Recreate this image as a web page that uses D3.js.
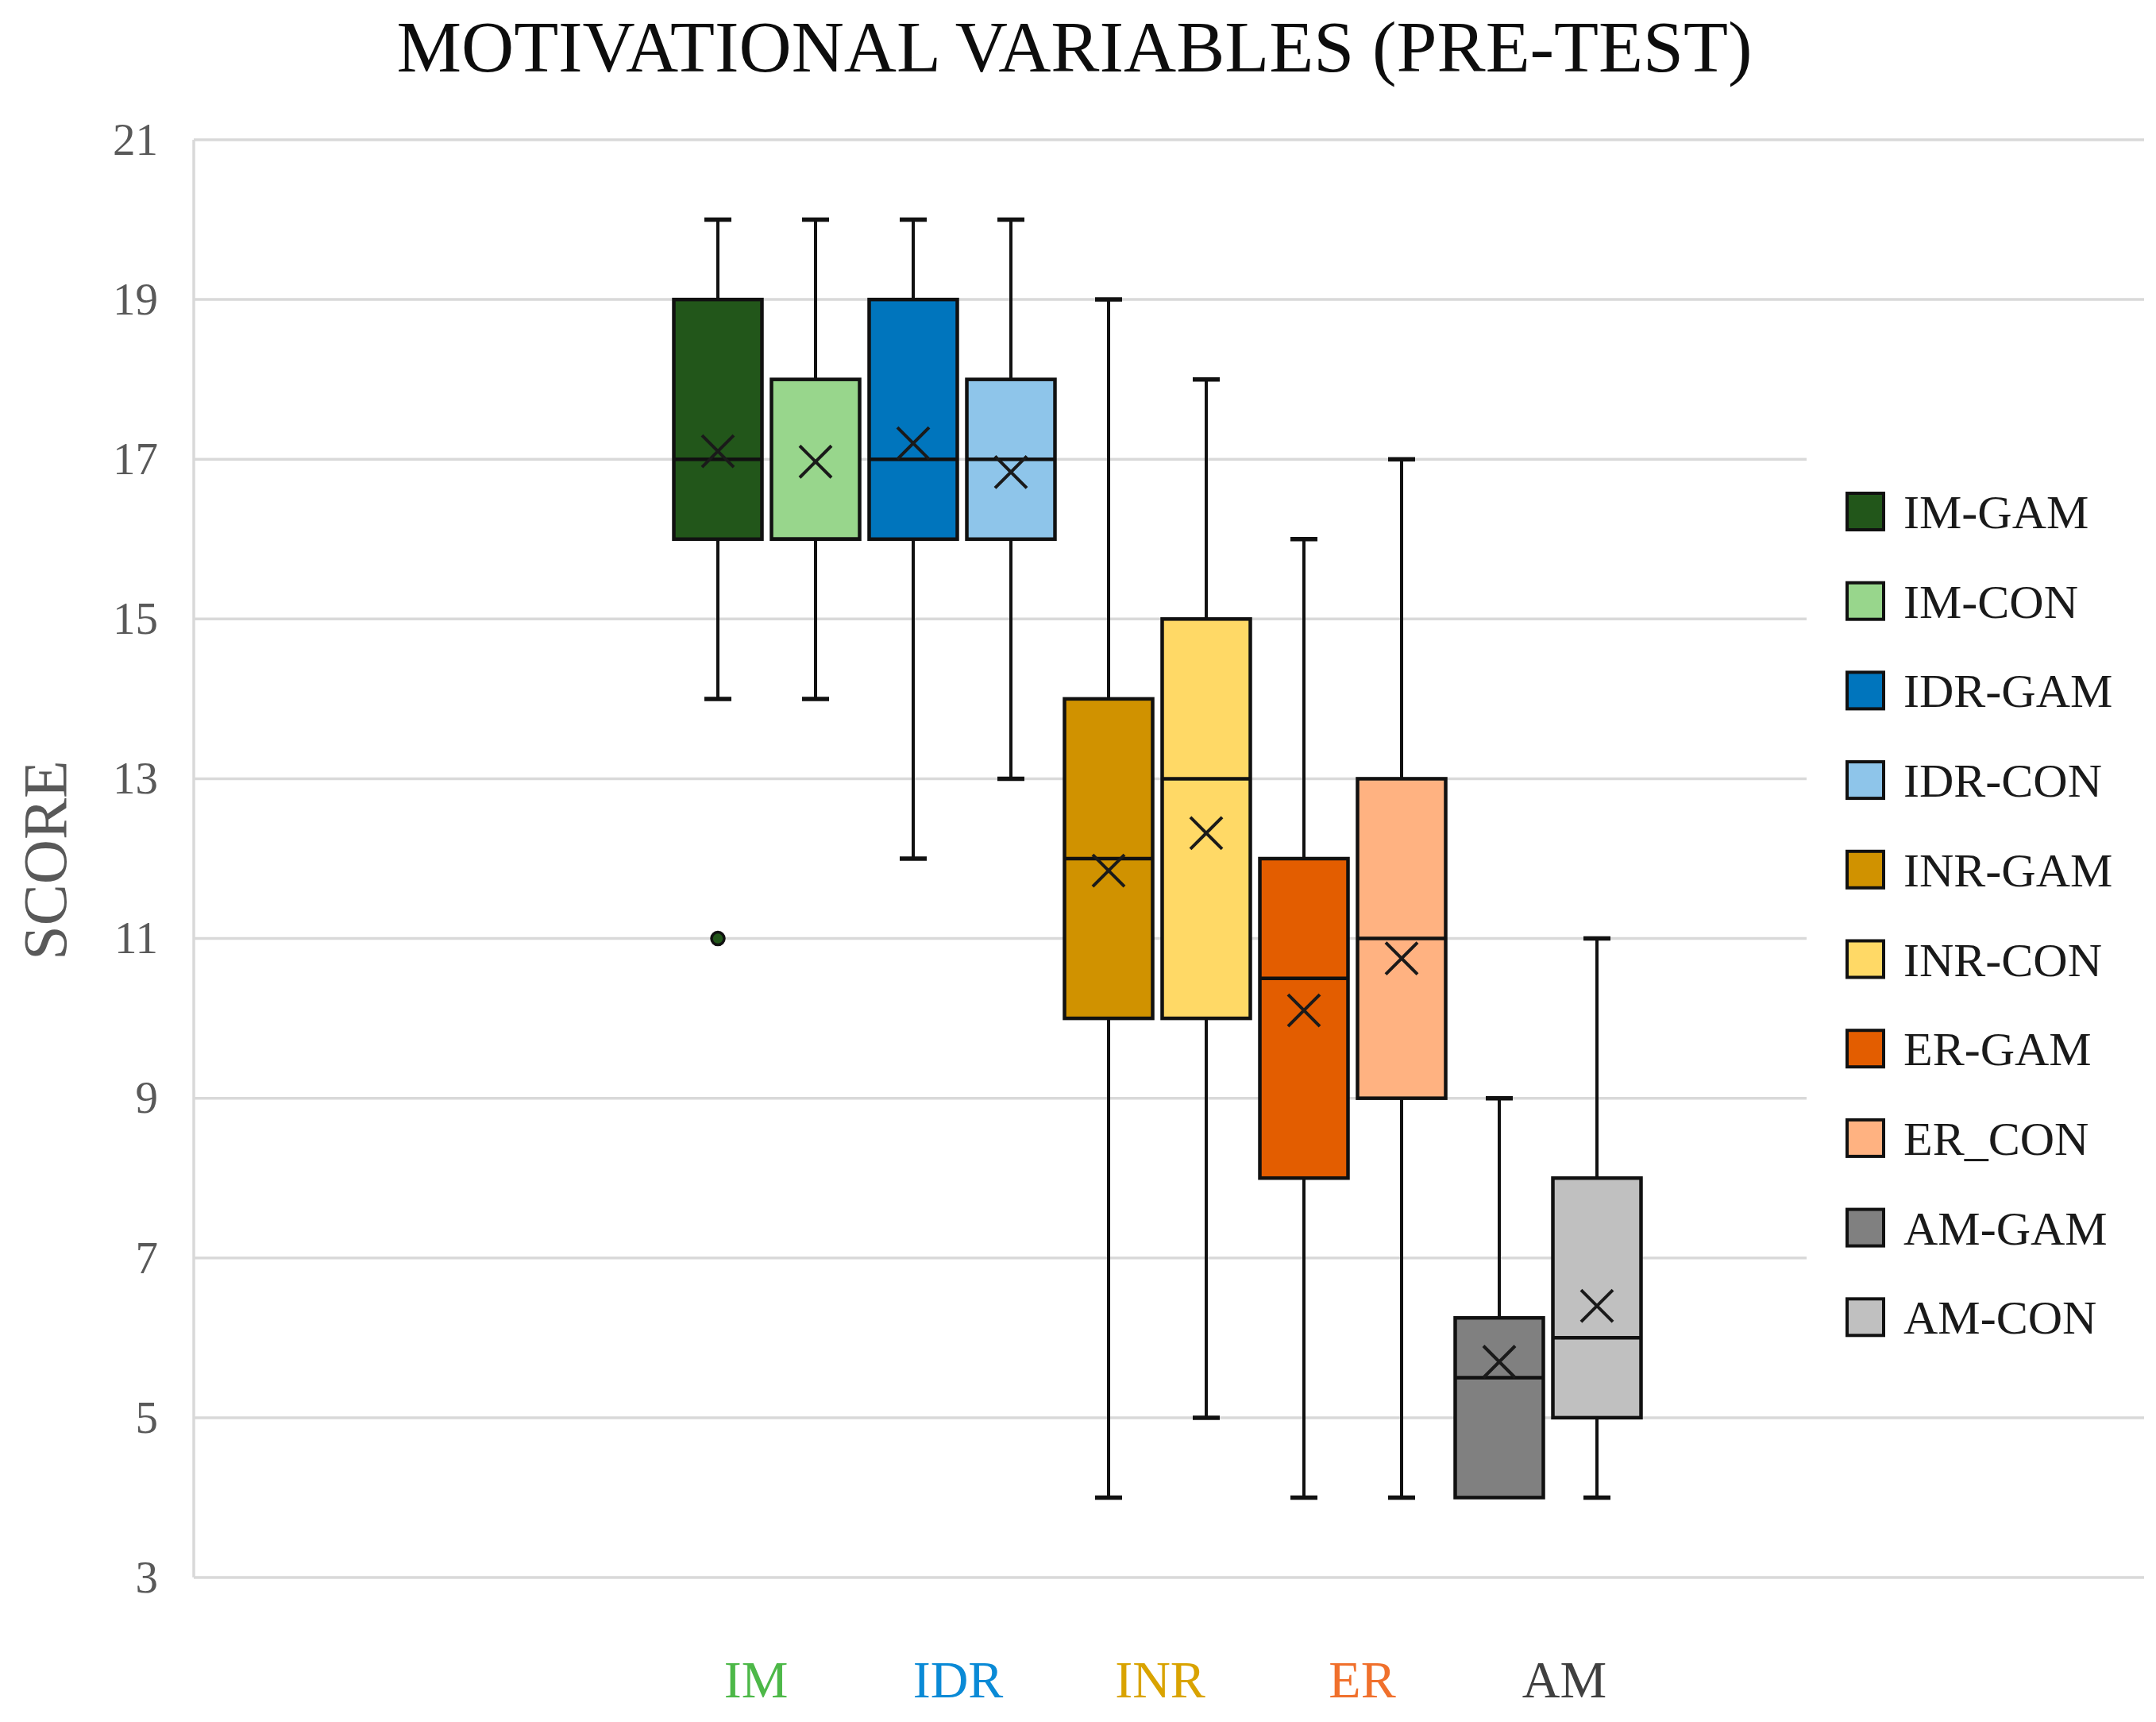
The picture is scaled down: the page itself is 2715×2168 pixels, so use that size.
<!DOCTYPE html>
<html>
<head>
<meta charset="utf-8">
<script src="https://cdn.jsdelivr.net/npm/d3@7"></script>
<style>
  html, body { margin: 0; padding: 0; background: #fff; }
  text { font-family: "Liberation Serif", "DejaVu Serif", serif; }
</style>
</head>
<body>
<svg id="chart"></svg>
<script>
// series shown in the chart (one box each)
const series = ["IM-GAM", "IM-CON", "IDR-GAM", "IDR-CON", "INR-GAM", "INR-CON", "ER-GAM", "ER_CON", "AM-GAM", "AM-CON"];
const fills = ["#22561a", "#98d68c", "#0075bd", "#8ec5ea", "#d09200", "#ffd966", "#e35d00", "#ffb281", "#808080", "#c0c0c0"];

// five-number summaries + mean
const whiskerLow  = [14, 14, 12, 13, 4, 5, 4, 4, 4, 4];
const q1          = [16, 16, 16, 16, 10, 10, 8, 9, 4, 5];
const median      = [17, 16, 17, 17, 12, 13, 10.5, 11, 5.5, 6];
const q3          = [19, 18, 19, 18, 14, 15, 12, 13, 6.25, 8];
const whiskerHigh = [20, 20, 20, 20, 19, 18, 16, 17, 9, 11];
const means       = [17.1, 16.97, 17.2, 16.84, 11.85, 12.32, 10.1, 10.75, 5.7, 6.4];

// outliers: [series, value]
const outliers = [["IM-GAM", 11]];

// category labels under the axis
const groups = ["IM", "IDR", "INR", "ER", "AM"];
const groupColors = ["#4db848", "#0a8ad6", "#d9a300", "#f0702c", "#404040"];

const yTicks = [3, 5, 7, 9, 11, 13, 15, 17, 19, 21];

const width = 2715;
const height = 2168;

const svg = d3.select("#chart")
  .attr("width", width)
  .attr("height", height);

const y = d3.scaleLinear().domain([3, 21]).range([1986, 176]);
const x = d3.scalePoint().domain(series).range([904, 2011]);
const xLabel = d3.scalePoint().domain(groups).range([952, 1970]);
const boxW = 111;
const plotLeft = 244;
const plotRight = 2700;

// gridlines
svg.append("g")
  .selectAll("line")
  .data(yTicks)
  .enter()
  .append("line")
  .attr("x1", plotLeft)
  .attr("x2", plotRight)
  .attr("y1", d => y(d))
  .attr("y2", d => y(d))
  .attr("stroke", "#d9d9d9")
  .attr("stroke-width", 3.5);

// vertical axis line
svg.append("line")
  .attr("x1", plotLeft)
  .attr("x2", plotLeft)
  .attr("y1", y(21))
  .attr("y2", y(3))
  .attr("stroke", "#d9d9d9")
  .attr("stroke-width", 3.5);

// y axis tick labels
const yAxis = d3.axisLeft(y).tickValues(yTicks).tickSize(0).tickPadding(0);
const yAxisG = svg.append("g")
  .attr("transform", `translate(199,0)`)
  .call(yAxis);
yAxisG.select(".domain").remove();
yAxisG.selectAll("text")
  .attr("fill", "#595959")
  .style("font-size", "57px")
  .style("font-family", '"Liberation Serif", "DejaVu Serif", serif');

// axis title
svg.append("text")
  .attr("transform", `translate(83,1083) rotate(-90)`)
  .attr("text-anchor", "middle")
  .attr("fill", "#595959")
  .style("font-size", "78px")
  .text("SCORE");

// chart title
svg.append("text")
  .attr("x", 1353)
  .attr("y", 90)
  .attr("text-anchor", "middle")
  .attr("fill", "#0d0d0d")
  .style("font-size", "92px")
  .attr("textLength", 1707)
  .attr("lengthAdjust", "spacingAndGlyphs")
  .text("MOTIVATIONAL VARIABLES (PRE-TEST)");

// legend background hides the gridlines behind it
svg.append("rect")
  .attr("x", 2275)
  .attr("y", 560)
  .attr("width", width - 2275)
  .attr("height", 1180)
  .attr("fill", "#fff");

// boxes
const boxes = svg.append("g")
  .selectAll("g")
  .data(series)
  .enter()
  .append("g");

const stroke = "#111";

// whiskers
boxes.append("line")
  .attr("x1", d => x(d)).attr("x2", d => x(d))
  .attr("y1", (d, i) => y(whiskerHigh[i]))
  .attr("y2", (d, i) => y(q3[i]))
  .attr("stroke", stroke).attr("stroke-width", 4);
boxes.append("line")
  .attr("x1", d => x(d)).attr("x2", d => x(d))
  .attr("y1", (d, i) => y(whiskerLow[i]))
  .attr("y2", (d, i) => y(q1[i]))
  .attr("stroke", stroke).attr("stroke-width", 4);

// caps
boxes.filter((d, i) => whiskerHigh[i] > q3[i])
  .append("line")
  .attr("x1", d => x(d) - 17).attr("x2", d => x(d) + 17)
  .attr("y1", d => y(whiskerHigh[series.indexOf(d)]))
  .attr("y2", d => y(whiskerHigh[series.indexOf(d)]))
  .attr("stroke", stroke).attr("stroke-width", 5.5);
boxes.filter((d, i) => whiskerLow[i] < q1[i])
  .append("line")
  .attr("x1", d => x(d) - 17).attr("x2", d => x(d) + 17)
  .attr("y1", d => y(whiskerLow[series.indexOf(d)]))
  .attr("y2", d => y(whiskerLow[series.indexOf(d)]))
  .attr("stroke", stroke).attr("stroke-width", 5.5);

// box
boxes.append("rect")
  .attr("x", d => x(d) - boxW / 2)
  .attr("width", boxW)
  .attr("y", (d, i) => y(q3[i]))
  .attr("height", (d, i) => y(q1[i]) - y(q3[i]))
  .attr("fill", (d, i) => fills[i])
  .attr("stroke", stroke)
  .attr("stroke-width", 4.5);

// median
boxes.append("line")
  .attr("x1", d => x(d) - boxW / 2).attr("x2", d => x(d) + boxW / 2)
  .attr("y1", (d, i) => y(median[i]))
  .attr("y2", (d, i) => y(median[i]))
  .attr("stroke", stroke).attr("stroke-width", 4.5);

// mean markers (X)
const mk = 20;
boxes.append("path")
  .attr("d", (d, i) => {
    const cx = x(d), cy = y(means[i]);
    return `M${cx - mk},${cy - mk}L${cx + mk},${cy + mk}M${cx - mk},${cy + mk}L${cx + mk},${cy - mk}`;
  })
  .attr("stroke", "#1a1a1a")
  .attr("stroke-width", 4)
  .attr("fill", "none");

// outliers
svg.append("g")
  .selectAll("circle")
  .data(outliers)
  .enter()
  .append("circle")
  .attr("cx", d => x(d[0]))
  .attr("cy", d => y(d[1]))
  .attr("r", 8)
  .attr("fill", d => fills[series.indexOf(d[0])])
  .attr("stroke", "#111")
  .attr("stroke-width", 3.5);

// category labels
svg.append("g")
  .selectAll("text")
  .data(groups)
  .enter()
  .append("text")
  .attr("x", d => xLabel(d))
  .attr("y", 2137)
  .attr("text-anchor", "middle")
  .attr("fill", (d, i) => groupColors[i])
  .style("font-size", "66px")
  .text(d => d);

// legend
const legend = svg.append("g")
  .selectAll("g")
  .data(series)
  .enter()
  .append("g")
  .attr("transform", (d, i) => `translate(2326,${644 + i * 112.7})`);

legend.append("rect")
  .attr("x", 0)
  .attr("y", -23)
  .attr("width", 46)
  .attr("height", 46)
  .attr("fill", (d, i) => fills[i])
  .attr("stroke", "#111")
  .attr("stroke-width", 4);

legend.append("text")
  .attr("x", 71)
  .attr("y", 0)
  .attr("dy", "0.35em")
  .attr("fill", "#1a1a1a")
  .style("font-size", "60px")
  .text(d => d);
</script>
</body>
</html>
